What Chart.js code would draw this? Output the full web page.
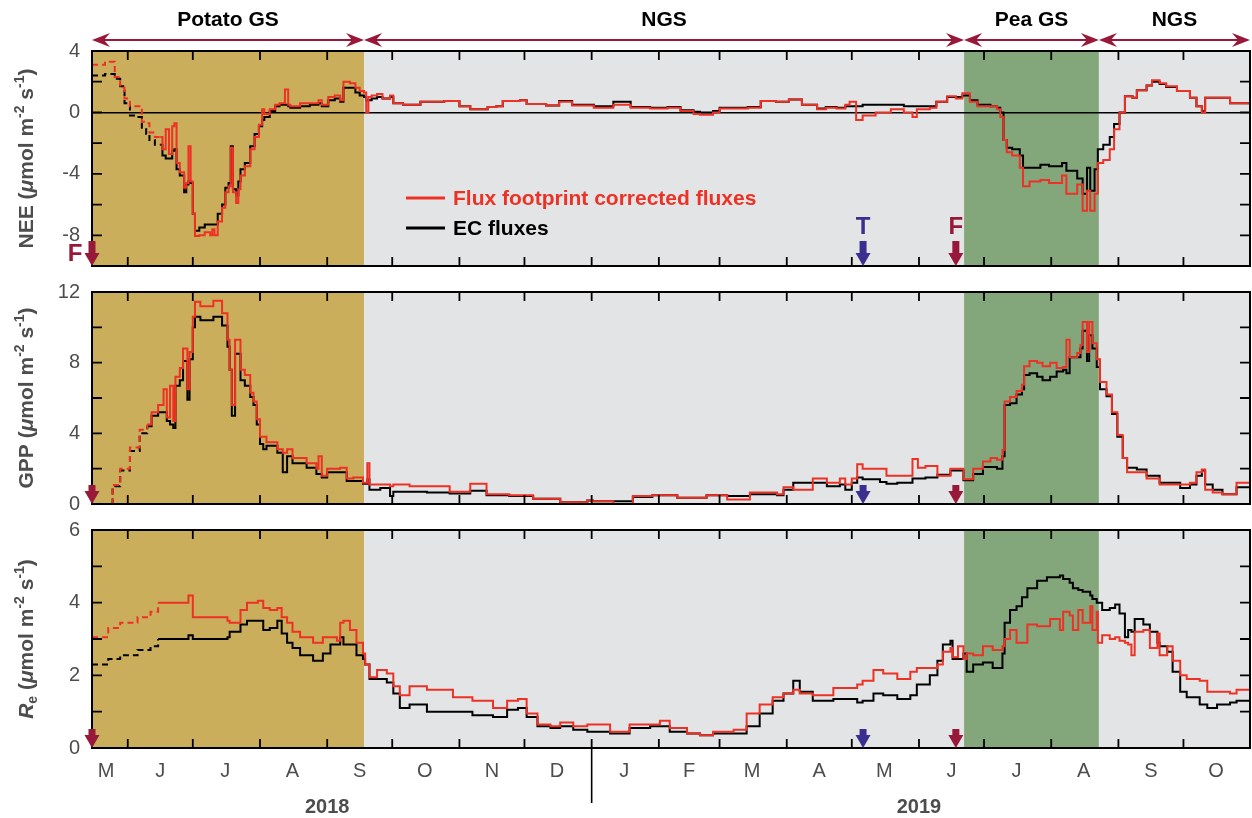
<!DOCTYPE html>
<html>
<head>
<meta charset="utf-8">
<script src="https://cdn.jsdelivr.net/npm/chart.js@4.4.1/dist/chart.umd.min.js"></script>
<style>
  html, body { margin: 0; padding: 0; background: #fff; }
  body { width: 1252px; height: 818px; position: relative; overflow: hidden; }
  canvas { position: absolute; left: 0; }
</style>
</head>
<body>
<canvas id="nee" width="1252" height="290" style="top:0px"></canvas>
<canvas id="gpp" width="1252" height="260" style="top:268px"></canvas>
<canvas id="re"  width="1252" height="312" style="top:506px"></canvas>
<script>
// ── AXIS (x = days since 1 Jan 2018) ─────────────
const X_MIN = 134.5, X_MAX = 668.7;
const monthStarts  = [151,181,212,243,273,304,334,365,396,424,455,485,516,546,577,608,638];
const monthMids    = [141,166,196,227,258,288,319,349,380,410,439,470,500,531,561,592,623,653];
const monthLetters = ['M','J','J','A','S','O','N','D','J','F','M','A','M','J','J','A','S','O'];
const yearLabels   = ['2018','2019'];
const yearMids     = [243,516];
const yearBreak    = 365;

// ── PERIODS / EVENTS ─────────────────────────────
const periodNames = ['Potato GS','NGS','Pea GS','NGS'];
const periodStart = [134.5,260,536.8,599];
const periodEnd   = [260,536.8,599,668.7];
const periodFill  = ['#cbae5c','#e3e4e6','#84a67b','#e3e4e6'];

const eventDays   = [134.5,490.2,533];
const eventLabels = ['F','T','F'];
const eventColors = ['#98183a','#3a2f8e','#98183a'];

// ── NEE ───────────────────────────────────────────
const neeDays = [
  134.5,138,140.5,143.5,145,147.5,149.5,152,155,157.5,
  159.5,161,163.5,166,167,168.5,170,171.5,172.5,173.5,
  175,177,178,179,180,181,182,184,186.5,189,
  190,191,192.5,194.5,196,197.5,198.5,199.5,201,202,
  203,205,207.5,209.5,211.5,213,214,216.5,219,221,
  223.5,225,226,230.5,235,239,240.5,243.5,246.5,249,
  250.5,253.5,256,258,260,261,262,263.5,266,268.5,
  272,273.5,278,286,297,304,309,317,321,324,
  332,335,344,350,356,366,375,383,392,400,
  406,412,415,421,424,437,443,450,456,462,
  469,473,478,482,484,487,490,496,503,509,
  513,515,521,524,529,533,536,539.5,543,549,
  552,553.5,555,556.5,559,562.5,564,567,572,576,
  582,584,589,591.5,593.5,595,597,598.5,601,604,
  606,608.5,611,614.5,616.5,621,623.5,627,630,635,
  641,644,646.5,648,655,659.5,668.7
];
const neeFootprint = [
  3.1,3.1,3.3,3.3,2.3,1.6,0.9,0.4,0.4,-0.6,
  -0.7,-1.3,-1.6,-1.6,-2.4,-1.1,-2.7,-0.9,-0.7,-3.3,
  -3.9,-4.9,-4.6,-2.2,-4.5,-6.6,-8.05,-8.0,-7.8,-8.0,
  -7.6,-8.0,-7.1,-6.2,-5.2,-4.8,-2.3,-5.2,-5.9,-5.0,
  -4.1,-3.5,-2.4,-1.6,-0.8,0.2,-0.1,0.2,0.5,0.6,
  1.5,0.5,0.4,0.6,0.6,0.8,0.5,1.0,1.1,0.8,
  2.0,1.9,1.6,1.4,1.3,0.0,1.0,1.1,1.2,0.9,
  1.1,0.6,0.5,0.7,0.75,0.4,0.2,0.35,0.4,0.75,
  0.8,0.55,0.45,0.7,0.45,0.3,0.5,0.3,0.25,0.3,
  0.1,-0.1,-0.15,0.0,0.25,0.3,0.75,0.7,0.85,0.5,
  0.2,0.3,0.25,0.5,0.7,-0.5,-0.2,0.0,0.2,0.0,
  -0.3,0.2,0.3,0.7,1.05,0.9,1.25,0.7,0.4,0.4,
  0.2,-0.3,-1.8,-2.6,-2.8,-3.6,-4.8,-4.5,-4.4,-4.6,
  -4.1,-5.3,-4.7,-6.4,-5.1,-6.4,-5.3,-3.3,-3.1,-2.4,
  -1.1,0.0,1.05,0.95,1.45,1.75,2.1,1.9,1.7,1.4,
  0.95,0.4,0.0,0.95,0.95,0.6,0.4
];
const neeEC = [
  2.4,2.4,2.5,2.5,2.2,1.7,0.6,-0.2,-0.3,-1.0,
  -1.4,-1.8,-2.1,-2.1,-2.8,-3.0,-3.0,-2.5,-2.4,-3.7,
  -4.1,-5.2,-4.7,-4.5,-4.6,-6.6,-7.7,-7.5,-7.3,-7.3,
  -7.3,-7.3,-6.6,-6.0,-4.9,-4.6,-2.2,-5.0,-5.4,-4.5,
  -3.7,-3.3,-2.2,-1.4,-0.9,-0.5,-0.3,0.1,0.4,0.5,
  0.5,0.4,0.3,0.4,0.5,0.6,0.4,0.8,0.9,0.7,
  1.6,1.6,1.3,1.1,1.0,0.8,0.8,0.9,1.0,0.9,
  1.0,0.6,0.5,0.7,0.75,0.4,0.2,0.35,0.4,0.75,
  0.8,0.55,0.45,0.75,0.5,0.4,0.7,0.35,0.3,0.35,
  0.15,0.05,0.0,0.1,0.3,0.35,0.75,0.7,0.85,0.5,
  0.25,0.35,0.3,0.4,0.4,0.4,0.5,0.5,0.5,0.4,
  0.4,0.4,0.4,0.7,1.0,1.0,1.1,0.8,0.5,0.4,
  0.3,0.0,-1.8,-2.3,-2.4,-2.8,-3.6,-3.6,-3.4,-3.5,
  -3.3,-3.8,-4.3,-5.3,-3.6,-5.1,-3.7,-2.4,-2.1,-1.6,
  -0.75,0.0,1.05,0.95,1.45,1.75,2.0,1.85,1.65,1.4,
  0.95,0.4,0.1,0.95,0.95,0.6,0.4
];

// ── GPP ───────────────────────────────────────────
const gppDays = [
  134.5,144,147.5,152,156.5,160,162,165,167.5,169,
  170.5,172,173,175,176.5,178.5,179.5,181,182,184.5,
  190.5,194.5,197,198,199,200.5,203,205,207.5,209,
  210.5,212,213.5,215,220,222.5,224.5,227,233.5,238,
  239,240.5,243,249,252,255,259.5,261.5,262.5,267.5,
  272,273.5,281,289,299.5,309,316.5,327,338,350.5,
  363,365.5,375,384,393,404.5,418,427.5,438,450.5,
  453.5,458,467,473.5,479.5,482,485,487.5,490,498,
  501,506,513,515.5,519,524.5,530.5,536.5,541,545.5,
  549,552,554.5,555.5,558,561,563.5,564.5,567,570.5,
  573,576.5,579.5,582.5,584,585.5,589,590.5,591.5,593.5,
  594.5,596,598,599.5,602.5,605,607.5,610,612,616.5,
  621,627,636.5,641,644,646.5,648,651.5,656,662.5,
  668.7
];
const gppFootprint = [
  0,1.08,2.0,3.2,4.2,4.5,5.2,5.6,6.5,4.9,
  6.7,4.7,7.2,7.7,8.8,6.5,8.6,10.6,11.45,11.2,
  11.5,10.8,9.3,7.6,5.6,9.3,7.6,7.3,6.3,5.8,
  4.8,3.8,3.8,3.5,3.1,2.9,3.1,2.6,2.3,2.0,
  2.7,1.6,2.0,2.05,1.45,1.5,1.2,2.3,1.1,1.1,
  1.0,1.1,1.0,1.0,0.7,1.15,0.55,0.5,0.3,0.1,
  0.2,0.15,0.0,0.45,0.5,0.35,0.5,0.25,0.65,0.55,
  0.95,0.8,1.45,1.2,1.45,1.1,1.45,2.25,2.0,2.0,
  1.6,1.6,2.55,2.05,2.15,1.6,2.0,1.4,2.0,2.4,
  2.6,2.5,3.05,5.8,6.05,6.4,6.75,7.8,8.1,8.0,
  7.8,8.0,7.7,7.75,9.3,8.3,8.55,9.0,10.3,8.6,
  10.3,9.1,8.2,6.9,6.2,5.2,3.9,2.6,1.8,1.8,
  1.45,1.1,1.1,1.2,1.8,1.95,0.8,0.65,0.55,1.2,
  1.3
];
const gppEC = [
  0,1.0,1.9,3.0,4.0,4.4,5.0,5.2,5.2,4.7,
  4.5,4.3,6.7,7.0,8.1,5.9,8.2,10.0,10.6,10.4,
  10.6,10.1,8.9,7.6,5.0,8.5,7.0,6.7,6.05,5.6,
  4.5,3.4,3.1,3.3,2.9,1.8,2.7,2.3,2.05,1.7,
  1.7,1.5,1.8,1.8,1.3,1.3,1.15,1.4,0.8,0.9,
  0.45,0.7,0.7,0.65,0.6,0.75,0.5,0.45,0.3,0.1,
  0.2,0.15,0.15,0.4,0.5,0.35,0.5,0.45,0.55,0.5,
  0.8,1.2,1.2,1.0,1.1,0.8,1.2,1.5,1.4,1.25,
  1.15,1.2,1.45,1.45,1.5,1.65,1.9,1.35,1.7,2.1,
  2.1,2.0,2.7,5.6,5.7,6.2,6.5,7.3,7.4,7.2,
  7.0,7.2,7.5,7.6,7.4,8.3,8.3,8.8,9.8,8.1,
  9.55,8.8,7.75,6.5,6.1,5.1,3.8,2.6,2.05,1.95,
  1.6,1.2,0.9,1.1,1.6,1.9,1.1,0.8,0.55,0.95,
  1.0
];

// ── Re ────────────────────────────────────────────
const reDays = [
  134.5,142,147.5,155.5,161.5,165,178,179,181,192,
  197,198,203,206,211,213.5,216.5,220,222,224.5,
  227,230.5,236.5,241,244.5,247.5,249,250.5,253.5,256.5,
  259.5,260.5,262.5,266,270.5,273.5,276.5,281,289,301,
  310,319.5,326,331,335,340,346,350.5,356.5,363,
  372,373.5,382.5,392,396.5,401,409,415,421,430.5,
  436.5,442.5,448.5,453.5,458,461,467,476.5,481,487.5,
  490,495,499.5,506,512,515,521,524.5,527,530.5,
  531.5,534,536.5,538,541,545.5,550,554.5,555.5,558,
  561,563.5,566,570.5,575,576.5,581,582.5,585.5,587,
  589.5,591.5,595,596,598,598.5,600.5,604,606.5,608.5,
  611,612.5,614,615.5,619.5,622.5,626,627,630.5,633,
  636.5,639.5,645.5,649,653.5,659.5,662.5,668.7
];
const reFootprint = [
  3.05,3.3,3.45,3.6,3.75,4.0,4.0,4.2,3.6,3.6,
  3.5,3.45,3.8,4.0,4.05,3.85,3.8,3.85,3.6,3.45,
  3.2,3.05,2.9,3.05,3.05,2.95,3.45,3.5,3.25,2.9,
  2.6,2.3,1.95,2.15,2.05,1.7,1.45,1.7,1.6,1.4,
  1.3,1.1,1.3,1.35,0.95,0.65,0.6,0.7,0.6,0.65,
  0.65,0.45,0.65,0.65,0.75,0.55,0.4,0.35,0.45,0.5,
  0.95,1.2,1.4,1.5,1.6,1.5,1.45,1.65,1.65,1.75,
  1.85,2.15,2.05,1.9,2.1,2.2,2.2,2.3,2.65,2.75,
  2.5,2.8,2.45,2.6,2.55,2.8,2.7,2.8,3.0,3.25,
  2.9,2.9,3.4,3.35,3.35,3.55,3.25,3.75,3.65,3.25,
  3.8,3.45,3.9,3.25,3.75,2.9,3.1,3.0,3.05,2.95,
  2.9,2.85,2.55,3.2,3.25,2.75,3.15,2.55,2.8,2.4,
  2.0,1.9,1.85,1.55,1.55,1.5,1.6,1.6
];
const reEC = [
  2.3,2.45,2.55,2.7,2.8,3.0,3.0,3.1,3.0,3.0,
  3.05,3.2,3.4,3.5,3.5,3.25,3.3,3.5,3.15,2.9,
  2.75,2.55,2.4,2.6,2.85,2.85,3.05,2.85,2.85,2.55,
  2.45,2.3,1.9,1.9,1.8,1.5,1.1,1.2,1.0,1.0,
  0.9,0.85,1.05,1.1,0.85,0.6,0.55,0.6,0.5,0.45,
  0.45,0.4,0.55,0.6,0.6,0.45,0.4,0.35,0.4,0.4,
  0.6,0.95,1.3,1.5,1.85,1.55,1.3,1.35,1.35,1.25,
  1.3,1.5,1.45,1.35,1.45,1.75,2.0,2.4,2.85,2.95,
  2.45,2.45,2.6,2.1,2.3,2.35,2.2,2.6,3.45,3.8,
  3.9,4.15,4.4,4.6,4.7,4.7,4.75,4.65,4.55,4.4,
  4.35,4.3,4.2,4.1,4.0,4.0,3.8,3.85,3.95,3.7,
  3.05,3.25,3.2,3.55,3.4,3.2,2.9,2.8,2.65,2.1,
  1.55,1.4,1.2,1.1,1.2,1.25,1.3,1.3
];

// ── AXIS TITLES (rich text pieces) ───────────────
const unitPieces = [
  { t: ' (' }, { t: 'μ', i: true }, { t: 'mol m' }, { t: '-2', sup: true },
  { t: ' s' }, { t: '-1', sup: true }, { t: ')' }
];
const neeTitle = [{ t: 'NEE' }, ...unitPieces];
const gppTitle = [{ t: 'GPP' }, ...unitPieces];
const reTitle  = [{ t: 'R', i: true }, { t: 'e', sub: true }, ...unitPieces];

// ── STYLE ─────────────────────────────────────────
const FONT   = '"Liberation Sans", Arial, Helvetica, sans-serif';
const RED    = '#ed3124';
const GREY   = '#4d4d4d';
const MAROON = '#98183a';
Chart.defaults.font.family = FONT;

const xy = (xs, ys) => xs.map((d, i) => ({ x: d, y: ys[i] }));

function arrowDown(ctx, px, tip, len, color) {
  ctx.fillStyle = color;
  ctx.fillRect(px - 3.5, tip - len, 7, len - 12);
  ctx.beginPath();
  ctx.moveTo(px - 7.5, tip - 13);
  ctx.lineTo(px + 7.5, tip - 13);
  ctx.lineTo(px, tip);
  ctx.closePath();
  ctx.fill();
}

function barb(ctx, tx, ty, dir) {
  ctx.beginPath();
  ctx.moveTo(tx, ty);
  ctx.lineTo(tx + dir * 18, ty - 7);
  ctx.lineTo(tx + dir * 12, ty);
  ctx.lineTo(tx + dir * 18, ty + 7);
  ctx.closePath();
  ctx.fill();
}

// vertical title with italic / super / subscript pieces
function richTitle(ctx, pieces, cx, cy, size) {
  const small = Math.round(size * 0.66);
  const fontOf = p => (p.i ? 'italic ' : '') + 'bold ' + (p.sup || p.sub ? small : size) + 'px ' + FONT;
  let total = 0;
  const w = pieces.map(p => { ctx.font = fontOf(p); const m = ctx.measureText(p.t).width; total += m; return m; });
  ctx.save();
  ctx.translate(cx, cy);
  ctx.rotate(-Math.PI / 2);
  ctx.fillStyle = GREY;
  ctx.textAlign = 'left';
  ctx.textBaseline = 'alphabetic';
  let xx = -total / 2;
  pieces.forEach((p, i) => {
    ctx.font = fontOf(p);
    const dy = p.sup ? -size * 0.4 : p.sub ? size * 0.22 : 0;
    ctx.fillText(p.t, xx, size * 0.36 + dy);
    xx += w[i];
  });
  ctx.restore();
}

// backgrounds, frame, inward ticks, markers, header, legend
const deco = {
  id: 'deco',
  beforeDraw(chart) {
    const { ctx, chartArea: a, scales: { x } } = chart;
    ctx.save();
    periodStart.forEach((s, i) => {
      const x0 = x.getPixelForValue(s), x1 = x.getPixelForValue(periodEnd[i]);
      ctx.fillStyle = periodFill[i];
      ctx.fillRect(x0, a.top, x1 - x0, a.bottom - a.top);
    });
    ctx.restore();
  },
  afterDraw(chart, args, o) {
    const { ctx, chartArea: a, scales: { x, y } } = chart;
    ctx.save();
    ctx.strokeStyle = '#000';
    ctx.lineWidth = 2;
    ctx.strokeRect(a.left, a.top, a.right - a.left, a.bottom - a.top);

    ctx.lineWidth = 1.8;
    ctx.beginPath();
    monthStarts.forEach(d => {
      const px = x.getPixelForValue(d);
      ctx.moveTo(px, a.bottom); ctx.lineTo(px, a.bottom - 9);
      ctx.moveTo(px, a.top);    ctx.lineTo(px, a.top + 9);
    });
    y.ticks.forEach(t => {
      const py = y.getPixelForValue(t.value);
      ctx.moveTo(a.left, py);  ctx.lineTo(a.left + 10, py);
      ctx.moveTo(a.right, py); ctx.lineTo(a.right - 10, py);
    });
    ctx.stroke();

    richTitle(ctx, o.title, 25, (a.top + a.bottom) / 2, 21);

    // F / T markers
    ctx.textAlign = 'center';
    ctx.textBaseline = 'middle';
    eventDays.forEach((d, i) => {
      const px = x.getPixelForValue(d);
      arrowDown(ctx, px, a.bottom, o.arrowLen, eventColors[i]);
      if (o.eventText) {
        ctx.fillStyle = eventColors[i];
        ctx.font = 'bold 24px ' + FONT;
        if (i === 0) ctx.fillText(eventLabels[i], px - 17, a.bottom - 12);
        else ctx.fillText(eventLabels[i], px, a.bottom - 39);
      }
    });

    if (o.header) {
      const yy = a.top - 11;
      periodStart.forEach((s, i) => {
        const x0 = x.getPixelForValue(s), x1 = x.getPixelForValue(periodEnd[i]);
        ctx.strokeStyle = MAROON; ctx.fillStyle = MAROON; ctx.lineWidth = 2.2;
        ctx.beginPath(); ctx.moveTo(x0 + 6, yy); ctx.lineTo(x1 - 6, yy); ctx.stroke();
        barb(ctx, x0, yy, 1);
        barb(ctx, x1, yy, -1);
        ctx.fillStyle = '#000';
        ctx.font = 'bold 21px ' + FONT;
        ctx.fillText(periodNames[i], (x0 + x1) / 2, a.top - 31);
      });
    }

    if (o.legend) {
      chart.data.datasets.forEach((ds, i) => {
        const lx = a.left + 314, ly = a.top + 147 + i * 30;
        ctx.strokeStyle = ds.borderColor; ctx.lineWidth = 3;
        ctx.beginPath(); ctx.moveTo(lx, ly); ctx.lineTo(lx + 39, ly); ctx.stroke();
        ctx.fillStyle = ds.borderColor;
        ctx.font = 'bold 21px ' + FONT;
        ctx.textAlign = 'left';
        ctx.fillText(ds.label, lx + 47, ly + 1);
      });
      ctx.textAlign = 'center';
    }

    if (o.years) {
      const yb = x.getPixelForValue(yearBreak);
      ctx.strokeStyle = '#000'; ctx.lineWidth = 1.6;
      ctx.beginPath(); ctx.moveTo(yb, a.bottom); ctx.lineTo(yb, a.bottom + 55); ctx.stroke();
      ctx.fillStyle = GREY;
      ctx.font = 'bold 20px ' + FONT;
      yearMids.forEach((d, i) => ctx.fillText(yearLabels[i], x.getPixelForValue(d), a.bottom + 59));
    }
    ctx.restore();
  }
};

function makePanel(id, p) {
  const line = (label, color, ys) => ({
    label, data: xy(p.days, ys),
    borderColor: color, borderWidth: 2, pointRadius: 0,
    stepped: true, fill: false,
    segment: { borderDash: c => c.p1.parsed.x <= p.dashEnd ? [6, 4] : undefined }
  });
  const scales = {
    x: { type: 'linear', min: X_MIN, max: X_MAX, display: false },
    y: {
      min: p.min, max: p.max,
      afterFit: s => { s.width = 92; },
      border: { display: false },
      grid: {
        display: !!p.zeroLine, drawTicks: false,
        color: c => c.tick && c.tick.value === 0 ? '#000' : 'rgba(0,0,0,0)',
        lineWidth: 1.6
      },
      ticks: {
        stepSize: p.step, padding: 12, color: GREY, font: { size: 20 },
        callback: v => (v % p.labelEvery === 0 ? v : '')
      }
    }
  };
  if (p.months) {
    scales.xm = {
      type: 'linear', position: 'bottom', min: X_MIN, max: X_MAX,
      afterBuildTicks: s => { s.ticks = monthMids.map(v => ({ value: v })); },
      afterFit: s => { s.height = 70; },
      grid: { display: false, drawTicks: false },
      border: { display: false },
      ticks: {
        autoSkip: false, maxRotation: 0, padding: 11, color: GREY, font: { size: 20 },
        callback: (v, i) => monthLetters[i]
      }
    };
  }
  return new Chart(document.getElementById(id), {
    type: 'line',
    data: { datasets: [
      line('Flux footprint corrected fluxes', RED, p.red),
      line('EC fluxes', '#000', p.black)
    ] },
    options: {
      responsive: false, animation: false, events: [],
      layout: { padding: p.padding },
      plugins: {
        legend: { display: false }, tooltip: { enabled: false },
        deco: Object.assign({ title: p.title }, p.deco)
      },
      scales
    },
    plugins: [deco]
  });
}

makePanel('nee', {
  days: neeDays, red: neeFootprint, black: neeEC, dashEnd: 166,
  min: -10, max: 4, step: 2, labelEvery: 4, zeroLine: true,
  title: neeTitle,
  padding: { top: 51, bottom: 17, left: 0, right: 2 },
  deco: { arrowLen: 25, eventText: true, header: true, legend: true }
});

makePanel('gpp', {
  days: gppDays, red: gppFootprint, black: gppEC, dashEnd: 161,
  min: 0, max: 12, step: 2, labelEvery: 4,
  title: gppTitle,
  padding: { top: 20, bottom: 18, left: 0, right: 2 },
  deco: { arrowLen: 19 }
});

makePanel('re', {
  days: reDays, red: reFootprint, black: reEC, dashEnd: 166,
  min: 0, max: 6, step: 1, labelEvery: 2, months: true,
  title: reTitle,
  padding: { top: 20, bottom: 0, left: 0, right: 2 },
  deco: { arrowLen: 19, years: true }
});
</script>
</body>
</html>
